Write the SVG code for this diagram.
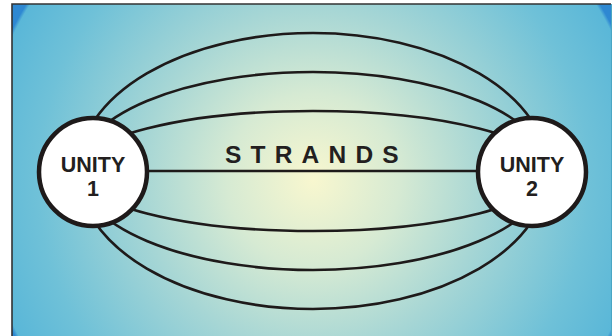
<svg xmlns="http://www.w3.org/2000/svg" width="613" height="336" viewBox="0 0 613 336">
  <defs>
    <radialGradient id="bg" gradientUnits="userSpaceOnUse" cx="313" cy="180" r="345">
      <stop offset="0" stop-color="#f8f7cf"/>
      <stop offset="0.25" stop-color="#d6ead3"/>
      <stop offset="0.5" stop-color="#a6d6d5"/>
      <stop offset="0.8" stop-color="#6fc1d8"/>
      <stop offset="0.965" stop-color="#5ab7d8"/>
      <stop offset="0.975" stop-color="#2e88d2"/>
      <stop offset="1" stop-color="#2e88d2"/>
    </radialGradient>
    <style>
      .strand { fill: none; stroke: #1e1a1a; stroke-width: 2.6; }
      .node circle { fill: #ffffff; stroke: #1e1a1a; stroke-width: 4.5; }
      .label { font-family: "Liberation Sans", Arial, sans-serif; font-weight: bold; fill: #231f20; }
      .node text { font-size: 21.5px; text-anchor: middle; }
    </style>
  </defs>

  <rect x="12" y="4" width="599" height="334" fill="url(#bg)"/>
  <path d="M12 336 V4 H611" fill="none" stroke="#333333" stroke-width="1.6"/>
  <line x1="611.5" y1="4" x2="611.5" y2="336" stroke="#4aa6c4" stroke-width="1"/>

  <g id="connectors">
    <path class="strand" d="M78 171 A235 138 0 0 1 548 171"/>
    <path class="strand" d="M78 171 A235 99 0 0 1 548 171"/>
    <path class="strand" d="M78 171 A235 60 0 0 1 548 171"/>
    <path class="strand" d="M93 171 H532"/>
    <path class="strand" d="M78 171 A235 60 0 0 0 548 171"/>
    <path class="strand" d="M78 171 A235 99 0 0 0 548 171"/>
    <path class="strand" d="M78 171 A235 138 0 0 0 548 171"/>
  </g>

  <text id="strands-label" class="label" x="225" y="163" font-size="24.5" letter-spacing="9.2">STRANDS</text>

  <g id="unity1" class="node">
    <circle cx="93" cy="172" r="54"/>
    <text class="label" x="93" y="172">UNITY</text>
    <text class="label" x="93" y="195.5">1</text>
  </g>

  <g id="unity2" class="node">
    <circle cx="532" cy="172" r="54"/>
    <text class="label" x="532" y="172">UNITY</text>
    <text class="label" x="532" y="195.5">2</text>
  </g>
</svg>
